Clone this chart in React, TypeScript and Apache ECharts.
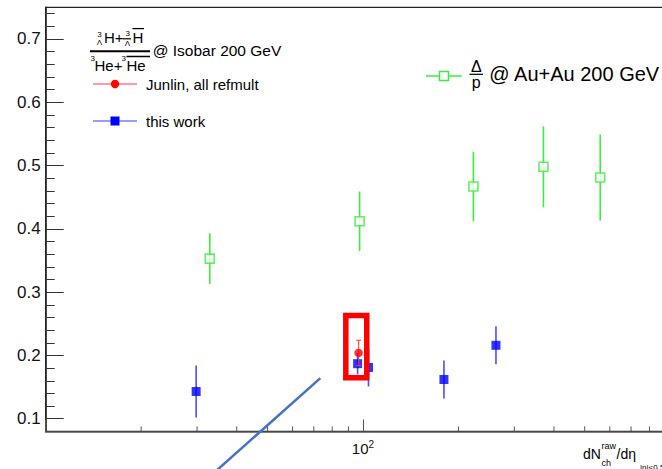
import React, { useEffect, useRef } from 'react';
import * as echarts from 'echarts';

// Λ/p in Au+Au collisions at 200 GeV
const auAuMult = [32.9, 97.6, 222.9, 370.6, 559.6];
const auAuRatio = [0.353, 0.412, 0.467, 0.498, 0.481];
const auAuErr = [0.04, 0.047, 0.055, 0.064, 0.068];

// hypertriton / helium-3 ratio in isobar collisions, this work
const isoMult = [29.8, 96.2, 104.1, 180.0, 262.6];
const isoRatio = [0.143, 0.187, 0.181, 0.162, 0.216];
const isoErr = [0.041, 0.017, 0.03, 0.03, 0.03];

// Junlin, all refmult
const junlinMult = [96.9];
const junlinRatio = [0.204];
const junlinErr = [0.02];

// axis ticks
const yMajorTicks = [0.1, 0.2, 0.3, 0.4, 0.5, 0.6, 0.7];
const yMinorTicks = [
  0.12, 0.14, 0.16, 0.18, 0.22, 0.24, 0.26, 0.28, 0.32, 0.34, 0.36, 0.38,
  0.42, 0.44, 0.46, 0.48, 0.52, 0.54, 0.56, 0.58, 0.62, 0.64, 0.66, 0.68,
  0.72, 0.74,
];
const xMinorTicks = [20, 30, 40, 50, 60, 70, 80, 90, 200, 300, 400, 500, 600, 700, 800, 900];

// highlight box and pointer line, in data coordinates
const highlightCorners = [
  [88.3, 0.2632],
  [102.8, 0.1649],
];
const pointerEnds = [
  [32.4, 0.0057],
  [73.4, 0.1641],
];

const Y_MIN = 0.08;
const Y_MAX = 0.75;
const FONT = '"Liberation Sans", Arial, Helvetica, sans-serif';
const GREEN = '#3bee3b';
const BLUE = '#0000ff';
const RED = '#ff0000';

function errorBars(xs: number[], ys: number[], errs: number[], color: string, width: number, z: number, cap = 0) {
  return {
    type: 'custom',
    silent: true,
    z,
    data: xs.map((x, i) => [x, ys[i] - errs[i], ys[i] + errs[i]]),
    encode: { x: 0, y: [1, 2] },
    renderItem: (_params: any, api: any) => {
      const lo = api.coord([api.value(0), api.value(1)]);
      const hi = api.coord([api.value(0), api.value(2)]);
      const style = { stroke: color, lineWidth: width };
      const children: any[] = [
        { type: 'line', shape: { x1: lo[0], y1: lo[1], x2: hi[0], y2: hi[1] }, style },
      ];
      if (cap > 0) {
        children.push({ type: 'line', shape: { x1: lo[0] - cap, y1: lo[1], x2: lo[0] + cap, y2: lo[1] }, style });
        children.push({ type: 'line', shape: { x1: hi[0] - cap, y1: hi[1], x2: hi[0] + cap, y2: hi[1] }, style });
      }
      return { type: 'group', children };
    },
  };
}

function txt(text: string, x: number, y: number, size: number, extra: any = {}) {
  return {
    type: 'text',
    x,
    y,
    z: 20,
    style: { text, fontSize: size, fontFamily: FONT, fill: '#000', align: 'left', verticalAlign: 'middle', ...extra },
  };
}

function seg(x1: number, y1: number, x2: number, y2: number, stroke: string, lineWidth: number) {
  return { type: 'line', z: 20, shape: { x1, y1, x2, y2 }, style: { stroke, lineWidth } };
}

export default function App() {
  const ref = useRef<HTMLDivElement>(null);

  useEffect(() => {
    if (!ref.current) return;
    const chart = echarts.init(ref.current, undefined, { renderer: 'svg' });

    const option: any = {
      animation: false,
      backgroundColor: '#fff',
      grid: {
        left: 45.7,
        top: 7.3,
        width: 634.5,
        height: 424.1,
        show: true,
        borderColor: '#222',
        borderWidth: 1.2,
        backgroundColor: 'transparent',
      },
      xAxis: {
        type: 'log',
        logBase: 10,
        min: 10,
        max: 1000,
        splitLine: { show: false },
        axisLine: { lineStyle: { color: '#555', width: 1.5 } },
        axisTick: { inside: true, length: 12, lineStyle: { color: '#555', width: 1 } },
        axisLabel: {
          margin: 8,
          color: '#111',
          fontFamily: FONT,
          formatter: (v: number) => (Math.abs(v - 100) < 1e-6 ? '{a|10}{b|2}' : ''),
          rich: {
            a: { fontSize: 15, fontFamily: FONT, color: '#111', lineHeight: 18 },
            b: { fontSize: 10, fontFamily: FONT, color: '#111', lineHeight: 10, verticalAlign: 'top' },
          },
        },
      },
      yAxis: [
        {
          type: 'value',
          min: Y_MIN,
          max: Y_MAX,
          splitLine: { show: false },
          axisLine: { show: true, lineStyle: { color: '#222', width: 1.5 } },
          axisTick: { show: true, inside: true, length: 18, customValues: yMajorTicks, lineStyle: { color: '#333', width: 1 } },
          axisLabel: {
            margin: 5,
            fontSize: 17,
            fontFamily: FONT,
            color: '#111',
            customValues: yMajorTicks,
            formatter: (v: number) => v.toFixed(1),
          },
        },
        {
          type: 'value',
          min: Y_MIN,
          max: Y_MAX,
          position: 'left',
          splitLine: { show: false },
          axisLine: { show: false },
          axisTick: { show: true, inside: true, length: 9, customValues: yMinorTicks, lineStyle: { color: '#333', width: 1 } },
          axisLabel: { show: false },
        },
      ],
      series: [
        {
          type: 'custom',
          silent: true,
          z: 1,
          data: xMinorTicks.map((v) => [v, Y_MIN]),
          encode: { x: 0, y: 1 },
          renderItem: (_p: any, api: any) => {
            const p = api.coord([api.value(0), Y_MIN]);
            return {
              type: 'line',
              shape: { x1: p[0], y1: p[1], x2: p[0], y2: p[1] - 5 },
              style: { stroke: '#555', lineWidth: 1 },
            };
          },
        },
        errorBars(auAuMult, auAuRatio, auAuErr, GREEN, 1.6, 2),
        {
          type: 'scatter',
          name: 'Au+Au',
          z: 3,
          symbol: 'rect',
          symbolSize: 9,
          itemStyle: { color: '#fff', borderColor: GREEN, borderWidth: 1.6 },
          data: auAuMult.map((x, i) => [x, auAuRatio[i]]),
        },
        errorBars(isoMult, isoRatio, isoErr, 'rgba(30,30,255,0.8)', 1.6, 4),
        {
          type: 'scatter',
          name: 'this work',
          z: 5,
          symbol: 'rect',
          symbolSize: 9,
          itemStyle: { color: BLUE },
          data: isoMult.map((x, i) => [x, isoRatio[i]]),
        },
        errorBars(junlinMult, junlinRatio, junlinErr, 'rgba(255,60,60,0.85)', 1.2, 6, 2.5),
        {
          type: 'scatter',
          name: 'Junlin, all refmult',
          z: 7,
          symbol: 'circle',
          symbolSize: 8.5,
          itemStyle: { color: RED },
          data: junlinMult.map((x, i) => [x, junlinRatio[i]]),
        },
      ],
    };

    chart.setOption(option);

    const finder = { seriesIndex: 2 };
    const b0 = chart.convertToPixel(finder, highlightCorners[0]) as number[];
    const b1 = chart.convertToPixel(finder, highlightCorners[1]) as number[];
    const l0 = chart.convertToPixel(finder, pointerEnds[0]) as number[];
    const l1 = chart.convertToPixel(finder, pointerEnds[1]) as number[];

    const graphic: any[] = [
      // ratio header: (³ΛH + ³ΛH̄) / (³He + ³H̄e)
      txt('3', 97.3, 34.3, 8),
      txt('Λ', 96.7, 42.5, 8),
      txt('H+', 104, 37.5, 15),
      txt('3', 125.5, 33.5, 8),
      seg(123, 38.8, 131, 38.8, '#000', 1.2),
      txt('Λ', 124.8, 43.3, 8),
      txt('H', 132.5, 37.5, 15),
      seg(132.5, 28.6, 144, 28.6, '#000', 1.3),
      seg(90, 51.3, 150, 51.3, '#000', 2),
      txt('3', 90.5, 58.8, 8),
      txt('He+', 94.5, 65, 15),
      txt('3', 121.5, 58.8, 8),
      txt('He', 126.5, 65, 15),
      seg(126.5, 56.5, 150, 56.5, '#000', 1.5),
      txt('@ Isobar 200 GeV', 152.7, 50, 15.5),
      // Junlin entry
      seg(93, 84, 137, 84, '#ff3a3a', 1.2),
      { type: 'circle', z: 20, shape: { cx: 115, cy: 84, r: 4.2 }, style: { fill: RED } },
      txt('Junlin, all refmult', 146, 84, 15),
      // this work entry
      seg(93, 121, 137, 121, '#3a3aff', 1.2),
      { type: 'rect', z: 20, shape: { x: 110.5, y: 116.5, width: 9, height: 9 }, style: { fill: BLUE } },
      txt('this work', 146, 121, 15),
      // Au+Au entry
      seg(426, 76, 461.7, 76, GREEN, 1.5),
      { type: 'rect', z: 21, shape: { x: 439.5, y: 71.5, width: 9, height: 9 }, style: { fill: '#fff', stroke: GREEN, lineWidth: 1.5 } },
      txt('Δ', 476.3, 66, 16, { align: 'center' }),
      seg(469.5, 74.3, 483, 74.3, '#000', 1.2),
      txt('p', 476.3, 82, 16, { align: 'center' }),
      txt('@ Au+Au 200 GeV', 489.3, 74.3, 20),
      // x axis title
      txt('dN', 583, 454.3, 14),
      txt('raw', 601.5, 445.5, 9),
      txt('ch', 601.5, 462.5, 9),
      txt('/dη', 616.5, 454.3, 14),
      txt('|η|<0.5', 640, 467.5, 8),
      // highlight box
      {
        type: 'rect',
        z: 30,
        shape: {
          x: Math.min(b0[0], b1[0]),
          y: Math.min(b0[1], b1[1]),
          width: Math.abs(b1[0] - b0[0]),
          height: Math.abs(b1[1] - b0[1]),
        },
        style: { fill: 'none', stroke: RED, lineWidth: 5.5 },
      },
      // pointer line
      {
        type: 'line',
        z: 30,
        shape: { x1: l0[0], y1: l0[1], x2: l1[0], y2: l1[1] },
        style: { stroke: '#4472c4', lineWidth: 2.5 },
      },
    ];

    chart.setOption({ graphic });

    return () => chart.dispose();
  }, []);

  return (
    <div style={{ position: 'absolute', left: 0, top: 0, width: 662, height: 469, overflow: 'hidden', background: '#fff' }}>
      <div ref={ref} style={{ width: 700, height: 469 }} />
    </div>
  );
}
